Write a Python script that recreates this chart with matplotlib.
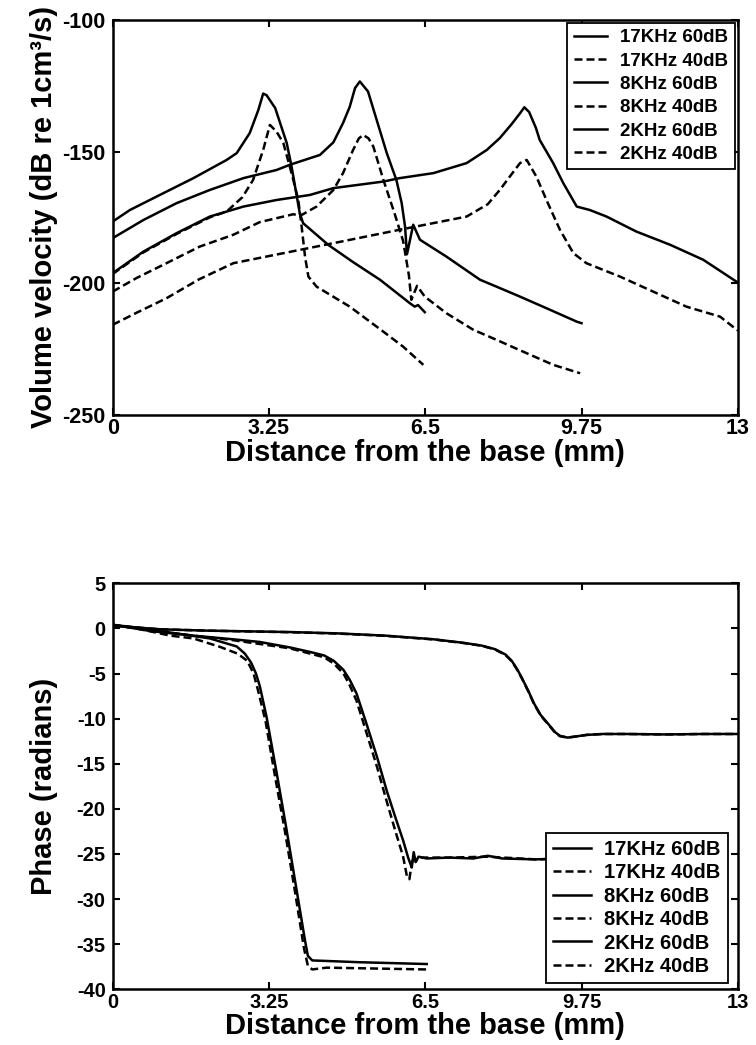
import matplotlib
matplotlib.use("Agg")
import matplotlib.pyplot as plt

plt.rcParams['font.family'] = ['Liberation Sans', 'DejaVu Sans']
plt.rcParams['font.weight'] = 'bold'
plt.rcParams['axes.unicode_minus'] = False

# ---------------- Top panel: volume velocity (dB re 1cm^3/s) ----------------
x17_60 = [0, 0.36, 0.98, 1.68, 2.37, 2.58, 2.85, 3.03, 3.13, 3.2, 3.38, 3.62, 3.72, 3.83, 3.89, 3.96, 4.48, 5.0, 5.56, 6.18, 6.28, 6.35, 6.49]
y17_60 = [-176.6, -172.2, -166.5, -160.1, -153.2, -150.6, -143.0, -134.2, -128.0, -128.6, -133.5, -146.8, -155.7, -167.1, -173.4, -177.2, -185.4, -192.0, -198.7, -207.6, -208.9, -208.3, -211.0]

x17_40 = [0, 0.64, 1.33, 2.02, 2.37, 2.7, 2.92, 3.13, 3.27, 3.41, 3.55, 3.72, 3.86, 3.93, 4.0, 4.07, 4.24, 4.93, 5.6, 6.04, 6.46]
y17_40 = [-196.5, -188.3, -181.3, -175.0, -172.8, -167.3, -160.8, -149.4, -139.9, -142.5, -146.8, -158.2, -168.4, -178.5, -189.9, -197.5, -201.3, -208.9, -218.0, -224.1, -231.0]

x8_60 = [0, 0.64, 1.33, 2.02, 2.72, 3.41, 3.69, 4.31, 4.59, 4.79, 4.93, 5.04, 5.14, 5.31, 5.49, 5.70, 5.90, 6.01, 6.08, 6.12, 6.25, 6.39, 6.94, 7.64, 7.98, 8.47, 9.02, 9.65, 9.75]
y8_60 = [-182.9, -176.0, -169.6, -164.6, -160.1, -157.0, -155.0, -151.3, -146.5, -139.2, -133.0, -125.9, -123.4, -127.2, -138.0, -150.6, -160.8, -169.6, -178.5, -189.0, -177.8, -183.5, -189.9, -198.7, -201.3, -205.1, -209.5, -214.6, -215.2]

x8_40 = [0, 0.5, 1.12, 1.81, 2.51, 3.06, 3.76, 3.89, 4.24, 4.59, 4.79, 5.0, 5.12, 5.21, 5.32, 5.42, 5.63, 5.86, 6.04, 6.16, 6.21, 6.33, 6.49, 6.94, 7.5, 7.98, 8.61, 9.16, 9.72]
y8_40 = [-203.2, -198.0, -192.4, -186.1, -181.6, -176.8, -173.8, -174.5, -170.9, -164.6, -158.2, -149.4, -145.0, -143.7, -145.0, -148.1, -160.8, -173.4, -184.0, -197.0, -206.3, -201.0, -205.1, -211.4, -217.7, -221.5, -226.6, -231.0, -234.2]

x2_60 = [0, 0.64, 1.33, 2.02, 2.72, 3.41, 4.1, 4.59, 5.63, 5.97, 6.67, 7.36, 7.78, 8.05, 8.3, 8.47, 8.56, 8.66, 8.8, 8.88, 9.16, 9.37, 9.65, 9.92, 10.27, 10.89, 11.59, 12.28, 12.97, 13.0]
y2_60 = [-196.2, -188.0, -181.0, -174.7, -170.9, -168.4, -166.5, -163.9, -161.4, -160.1, -158.2, -154.4, -149.4, -144.9, -139.5, -135.5, -133.2, -135.0, -141.0, -145.6, -154.4, -162.0, -170.9, -172.2, -174.7, -180.4, -185.4, -191.1, -199.4, -200.0]

x2_40 = [0, 0.5, 1.12, 1.8, 2.51, 3.55, 4.59, 5.97, 7.36, 7.8, 8.05, 8.3, 8.47, 8.61, 8.81, 9.02, 9.3, 9.58, 9.85, 10.55, 11.24, 11.93, 12.63, 13.0]
y2_40 = [-215.8, -211.2, -205.7, -198.5, -192.4, -188.6, -184.8, -179.7, -174.7, -170.0, -164.6, -158.5, -154.4, -153.2, -159.5, -168.4, -179.7, -188.6, -192.4, -197.5, -203.2, -208.9, -212.7, -218.0]

# ---------------- Bottom panel: phase (radians) ----------------
p17_60x = [0, 0.5, 1.33, 2.02, 2.58, 2.75, 2.88, 2.98, 3.06, 3.2, 3.41, 3.6, 3.8, 4.0, 4.06, 4.15, 5.14, 6.53]
p17_60y = [0.4, 0.1, -0.56, -1.11, -2.0, -2.8, -3.8, -5.0, -6.4, -9.8, -16.0, -21.8, -28.2, -34.6, -36.3, -36.8, -37.0, -37.2]

p17_40x = [0, 0.5, 1.2, 1.68, 2.23, 2.6, 2.8, 2.93, 3.02, 3.18, 3.38, 3.58, 3.78, 3.98, 4.06, 4.15, 4.45, 6.53]
p17_40y = [0.4, 0.0, -0.8, -1.11, -2.04, -2.8, -3.6, -5.0, -6.8, -10.3, -16.5, -22.4, -28.8, -35.5, -37.4, -37.8, -37.6, -37.8]

p8_60x = [0, 0.8, 1.68, 2.5, 3.06, 3.68, 4.1, 4.4, 4.6, 4.8, 4.93, 5.07, 5.28, 5.5, 5.7, 5.87, 6.04, 6.15, 6.22, 6.26, 6.3, 6.36, 6.53, 7.0, 7.5, 7.8, 8.1, 8.8, 9.3, 9.75]
p8_60y = [0.4, -0.3, -0.8, -1.2, -1.5, -2.1, -2.6, -3.0, -3.6, -4.6, -5.7, -7.2, -10.6, -14.3, -18.0, -20.8, -23.5, -25.5, -26.5, -24.8, -25.9, -25.3, -25.5, -25.4, -25.5, -25.2, -25.5, -25.6, -25.5, -25.5]

p8_40x = [0, 1.2, 2.5, 3.68, 4.4, 4.6, 4.8, 4.93, 5.07, 5.28, 5.5, 5.7, 5.87, 6.04, 6.12, 6.17, 6.22, 6.26, 6.3, 6.4, 7.0, 7.8, 8.8, 9.75]
p8_40y = [0.4, -0.5, -1.3, -2.2, -3.2, -3.9, -5.0, -6.3, -8.0, -11.6, -15.4, -19.2, -22.3, -25.3, -27.5, -27.8, -26.0, -25.2, -25.8, -25.4, -25.4, -25.3, -25.6, -25.5]

p2_60x = [0, 1.0, 2.0, 3.68, 4.68, 5.67, 6.67, 7.3, 7.67, 7.95, 8.17, 8.3, 8.42, 8.51, 8.65, 8.76, 8.9, 9.06, 9.2, 9.3, 9.46, 9.6, 9.86, 10.2, 10.66, 11.5, 12.3, 13.0]
p2_60y = [0.3, -0.1, -0.25, -0.4, -0.55, -0.8, -1.2, -1.6, -1.9, -2.3, -2.9, -3.6, -4.6, -5.5, -7.0, -8.3, -9.6, -10.6, -11.5, -11.9, -12.1, -12.0, -11.8, -11.7, -11.7, -11.75, -11.7, -11.7]

p2_40x = [0, 1.0, 2.0, 3.68, 4.68, 5.67, 6.67, 7.3, 7.67, 7.95, 8.17, 8.3, 8.42, 8.51, 8.65, 8.76, 8.9, 9.06, 9.2, 9.3, 9.46, 9.6, 9.86, 10.2, 10.66, 11.5, 12.3, 13.0]
p2_40y = [0.3, -0.1, -0.25, -0.42, -0.57, -0.82, -1.22, -1.62, -1.92, -2.33, -2.95, -3.65, -4.65, -5.55, -7.05, -8.35, -9.65, -10.65, -11.55, -11.95, -12.1, -12.0, -11.8, -11.7, -11.7, -11.75, -11.7, -11.7]

labels = ['17KHz 60dB', '17KHz 40dB', '8KHz 60dB', '8KHz 40dB', '2KHz 60dB', '2KHz 40dB']
xticks = [0, 3.25, 6.5, 9.75, 13]
xticklabels = ['0', '3.25', '6.5', '9.75', '13']
top_yticks = [-100, -150, -200, -250]
bot_yticks = [5, 0, -5, -10, -15, -20, -25, -30, -35, -40]

solid = '-'
dashed = (0, (3.2, 1.6))
LW = 1.8

fig = plt.figure(figsize=(7.56, 10.45), dpi=100)
ax1 = fig.add_axes([0.149, 0.603, 0.827, 0.378])
ax2 = fig.add_axes([0.149, 0.0533, 0.827, 0.3885])

top_series = [(x17_60, y17_60), (x17_40, y17_40), (x8_60, y8_60),
              (x8_40, y8_40), (x2_60, y2_60), (x2_40, y2_40)]
bot_series = [(p17_60x, p17_60y), (p17_40x, p17_40y), (p8_60x, p8_60y),
              (p8_40x, p8_40y), (p2_60x, p2_60y), (p2_40x, p2_40y)]
styles = [solid, dashed, solid, dashed, solid, dashed]

for ax, series in ((ax1, top_series), (ax2, bot_series)):
    for (xs, ys), ls, lab in zip(series, styles, labels):
        ax.plot(xs, ys, color='black', linestyle=ls, linewidth=LW, label=lab)

def style(ax, yticks, ylim, size):
    ax.set_xlim(0, 13)
    ax.set_ylim(*ylim)
    ax.set_xticks(xticks)
    ax.set_xticklabels(xticklabels)
    ax.set_yticks(yticks)
    ax.tick_params(direction='in', top=True, right=True, length=5, width=1.5,
                   labelsize=size)
    ax.tick_params(axis='x', pad=2.5)
    ax.tick_params(axis='y', pad=5)
    for lab in ax.get_xticklabels() + ax.get_yticklabels():
        lab.set_fontweight('bold')
    for sp in ax.spines.values():
        sp.set_linewidth(1.8)

style(ax1, top_yticks, (-250, -100), 15.5)
style(ax2, bot_yticks, (-40, 5), 14.5)

ax1.set_xlabel('Distance from the base (mm)', fontsize=21, fontweight='bold')
ax1.set_ylabel('Volume velocity (dB re 1cm³/s)', fontsize=21, fontweight='bold')
ax2.set_xlabel('Distance from the base (mm)', fontsize=21, fontweight='bold')
ax2.set_ylabel('Phase (radians)', fontsize=21, fontweight='bold')
ax1.xaxis.set_label_coords(0.5, -0.06)
ax2.xaxis.set_label_coords(0.5, -0.056)
ax1.yaxis.set_label_coords(-0.088, 0.5)
ax2.yaxis.set_label_coords(-0.088, 0.5)

l1 = ax1.legend(loc='upper right', borderaxespad=0.15, frameon=True, fancybox=False,
                handlelength=1.8, handletextpad=0.7, labelspacing=0.33, borderpad=0.35,
                prop={'weight': 'bold', 'size': 13.5})
l2 = ax2.legend(loc='lower right', bbox_to_anchor=(0.984, 0.0155), borderaxespad=0,
                frameon=True, fancybox=False, handlelength=1.9, handletextpad=0.65,
                labelspacing=0.22, borderpad=0.35, prop={'weight': 'bold', 'size': 14.5})
for lg in (l1, l2):
    fr = lg.get_frame()
    fr.set_edgecolor('black')
    fr.set_linewidth(1.3)
    fr.set_alpha(1)

fig.savefig('out.png', dpi=100)
